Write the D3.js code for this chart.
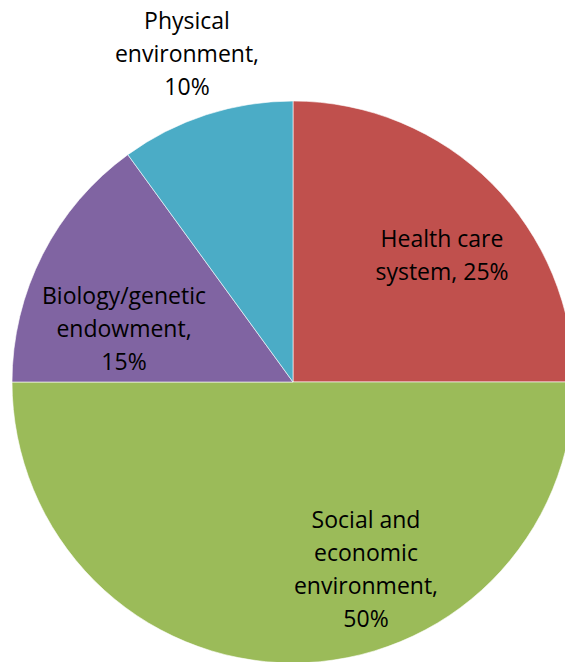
<!DOCTYPE html>
<html>
<head>
<meta charset="utf-8">
<script src="https://cdn.jsdelivr.net/npm/d3@7"></script>
<style>
  body { margin: 0; background: #fff; }
  svg { display: block; }
  .label { font-family: "Open Sans", Lato, sans-serif; font-size: 23px; fill: #000; }
</style>
</head>
<body>
<script>
const width = 565,
      height = 662;

// chart data
const categories = ["Health care system", "Social and economic environment", "Biology/genetic endowment", "Physical environment"];
const values = [25, 50, 15, 10];
const labelLines = [
  ["Health care", "system, 25%"],
  ["Social and", "economic", "environment,", "50%"],
  ["Biology/genetic", "endowment,", "15%"],
  ["Physical", "environment,", "10%"]
];
const colors = ["#C0504D", "#9BBB59", "#8064A2", "#4BACC6"];

const cx = 293, cy = 382, radius = 281;
const lineHeight = 33;

// where excel put each label, relative to the pie centre
const labelOffsets = [[149, -127], [73, 187], [-169, -53], [-106, -328]];

const svg = d3.select("body")
    .append("svg")
    .attr("width", width)
    .attr("height", height);

const pie = d3.pie()
    .sort(null)
    .value(d => d);

const arc = d3.arc()
    .innerRadius(0)
    .outerRadius(radius);

const g = svg.append("g")
    .attr("transform", `translate(${cx},${cy})`);

g.selectAll("path")
    .data(pie(values))
    .enter().append("path")
    .attr("d", arc)
    .attr("fill", (d, i) => colors[i])
    .attr("stroke", "#fff")
    .attr("stroke-width", 0.6);

const labels = g.selectAll("text")
    .data(pie(values))
    .enter().append("text")
    .attr("class", "label")
    .attr("text-anchor", "middle")
    .attr("transform", (d, i) => `translate(${labelOffsets[i][0]},${labelOffsets[i][1]})`);

labels.each(function(d, i) {
  const lines = labelLines[i];
  const start = -(lines.length - 1) / 2 * lineHeight;
  d3.select(this).selectAll("tspan")
    .data(lines)
    .enter().append("tspan")
    .attr("x", 0)
    .attr("y", (l, j) => start + j * lineHeight)
    .attr("dy", "0.35em")
    .text(l => l);
});
</script>
</body>
</html>
